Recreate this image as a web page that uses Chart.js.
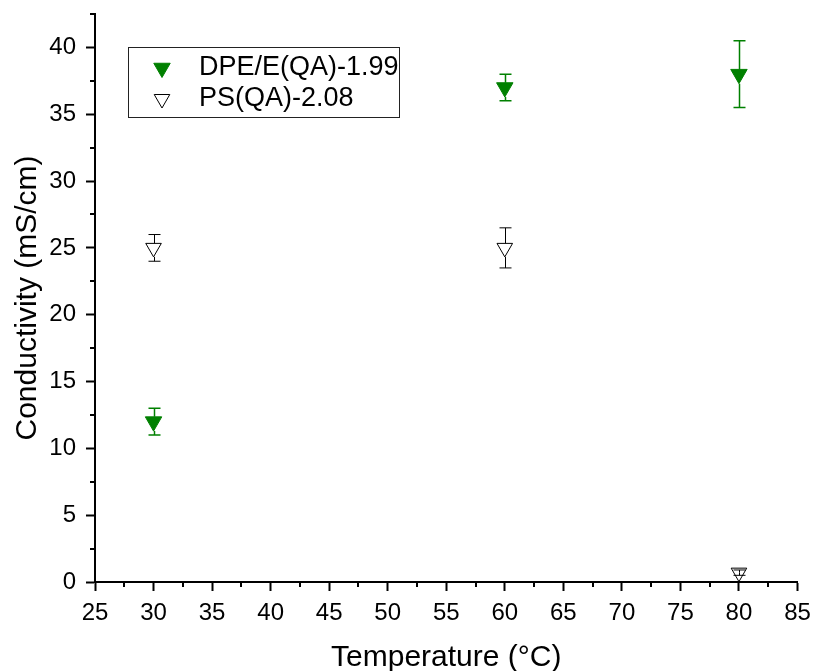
<!DOCTYPE html>
<html><head><meta charset="utf-8">
<script src="https://cdn.jsdelivr.net/npm/chart.js@4/dist/chart.umd.min.js"></script>
<style>html,body{margin:0;padding:0;background:#fff;}#wrap{position:relative;width:815px;height:671px;}</style>
</head><body><div id="wrap"><canvas id="c" width="815" height="671"></canvas></div>
<script>
const temperatures = [30, 60, 80];
const dpeConductivity = [12, 37, 38];
const dpeError = [1, 1, 2.5];
const psConductivity = [25, 25, 0.7];
const psError = [1, 1.5, 0.2];
const seriesNames = ['DPE/E(QA)-1.99', 'PS(QA)-2.08'];
const xTitle = 'Temperature (°C)';
const yTitle = 'Conductivity (mS/cm)';

const FONT = "'Liberation Sans', Arial, sans-serif";
const GREEN = '#008000';

const errorBars = {
  id: 'errorBars',
  beforeDatasetsDraw(chart) {
    const ctx = chart.ctx, ys = chart.scales.y;
    chart.data.datasets.forEach((ds, i) => {
      const meta = chart.getDatasetMeta(i);
      if (!ds.errors) return;
      ctx.save();
      ctx.strokeStyle = ds.errorColor;
      ctx.lineWidth = ds.errorWidth;
      const cap = 6;
      meta.data.forEach((pt, j) => {
        const v = ds.data[j].y, e = ds.errors[j];
        const x = Math.round(pt.x) + 0.5, yc = pt.y;
        const yt = ys.getPixelForValue(v + e), yb = ys.getPixelForValue(v - e);
        const r = ds.pointRadius;
        const topEdge = yc - r / 2, botEdge = yc + r;
        ctx.beginPath();
        ctx.moveTo(x, yt < topEdge ? topEdge : yc); ctx.lineTo(x, yt);
        ctx.moveTo(x, yb > botEdge ? botEdge : yc); ctx.lineTo(x, yb);
        ctx.moveTo(x - cap, yt); ctx.lineTo(x + cap, yt);
        ctx.moveTo(x - cap, yb); ctx.lineTo(x + cap, yb);
        ctx.stroke();
      });
      ctx.restore();
    });
  }
};

const minorTicks = {
  id: 'minorTicks',
  afterDraw(chart) {
    const ctx = chart.ctx, xs = chart.scales.x, ys = chart.scales.y, ca = chart.chartArea;
    ctx.save();
    ctx.strokeStyle = '#000';
    ctx.lineWidth = 2;
    ctx.beginPath();
    for (let v = xs.min + 2.5; v <= xs.max; v += 5) {
      const px = Math.round(xs.getPixelForValue(v));
      ctx.moveTo(px, ca.bottom); ctx.lineTo(px, ca.bottom + 5);
    }
    for (let v = ys.min + 2.5; v <= ys.max; v += 5) {
      const py = Math.round(ys.getPixelForValue(v));
      ctx.moveTo(ca.left, py); ctx.lineTo(ca.left - 5, py);
    }
    ctx.stroke();
    ctx.restore();
  }
};

const boxLegend = {
  id: 'boxLegend',
  afterDraw(chart) {
    const ctx = chart.ctx;
    ctx.save();
    ctx.strokeStyle = '#222';
    ctx.lineWidth = 1;
    ctx.strokeRect(128.5, 47.5, 271, 70);
    const rows = [67, 98];
    chart.data.datasets.forEach((ds, i) => {
      ctx.fillStyle = ds.pointBackgroundColor;
      ctx.strokeStyle = ds.pointBorderColor;
      ctx.lineWidth = ds.pointBorderWidth;
      Chart.helpers.drawPoint(ctx, {pointStyle: 'triangle', rotation: 180, radius: ds.pointRadius, borderWidth: ds.pointBorderWidth}, 162, rows[i] + 1);
      ctx.fillStyle = '#000';
      ctx.font = '27px ' + FONT;
      ctx.textBaseline = 'middle';
      ctx.textAlign = 'left';
      ctx.fillText(ds.label, 199, rows[i] + 0.5);
    });
    ctx.restore();
  }
};

const tickColor = (ctx) => (ctx.tick && ctx.tick.value % 5 === 0) ? '#000' : 'rgba(0,0,0,0)';

new Chart(document.getElementById('c'), {
  type: 'scatter',
  data: {
    datasets: [
      {
        label: seriesNames[0],
        data: temperatures.map((t, i) => ({x: t, y: dpeConductivity[i]})),
        errors: dpeError,
        errorColor: GREEN,
        errorWidth: 1.5,
        pointStyle: 'triangle',
        rotation: 180,
        pointRadius: 9.5,
        pointHoverRadius: 9.5,
        pointBackgroundColor: GREEN,
        pointBorderColor: GREEN,
        pointBorderWidth: 1,
        showLine: false,
        clip: false
      },
      {
        label: seriesNames[1],
        data: temperatures.map((t, i) => ({x: t, y: psConductivity[i]})),
        errors: psError,
        errorColor: '#000',
        errorWidth: 1,
        pointStyle: 'triangle',
        rotation: 180,
        pointRadius: 9,
        pointHoverRadius: 9,
        pointBackgroundColor: 'rgba(0,0,0,0)',
        pointBorderColor: '#000',
        pointBorderWidth: 1,
        showLine: false,
        clip: false
      }
    ]
  },
  options: {
    responsive: false,
    animation: false,
    devicePixelRatio: 1,
    layout: {padding: {top: 14, right: 17.5, left: 10, bottom: 0}},
    plugins: {legend: {display: false}, tooltip: {enabled: false}},
    scales: {
      x: {
        type: 'linear',
        min: 25, max: 85,
        afterFit(s) { s.height = 89; s.paddingLeft = 0; s.paddingRight = 0; },
        border: {display: true, color: '#000', width: 2},
        grid: {drawOnChartArea: false, drawTicks: true, tickLength: 9, tickWidth: 2, tickColor: tickColor},
        ticks: {stepSize: 2.5, autoSkip: false, maxRotation: 0, color: '#000', padding: 8,
          font: {family: FONT, size: 24},
          callback: (v) => v % 5 === 0 ? String(v) : ''},
        title: {display: true, text: xTitle, color: '#000', font: {family: FONT, size: 30}, padding: {top: 0, bottom: -5}}
      },
      y: {
        type: 'linear',
        min: 0, max: 42.5,
        afterFit(s) { s.width = 85; s.paddingTop = 0; s.paddingBottom = 0; },
        border: {display: true, color: '#000', width: 2},
        grid: {drawOnChartArea: false, drawTicks: true, tickLength: 9, tickWidth: 2, tickColor: tickColor},
        ticks: {stepSize: 2.5, autoSkip: false, color: '#000', padding: 10,
          font: {family: FONT, size: 24},
          callback: (v) => v % 5 === 0 ? String(v) : ''},
        title: {display: true, text: yTitle, color: '#000', font: {family: FONT, size: 30}, padding: {top: 0, bottom: 0}}
      }
    }
  },
  plugins: [errorBars, minorTicks, boxLegend]
});
</script>
</body></html>
